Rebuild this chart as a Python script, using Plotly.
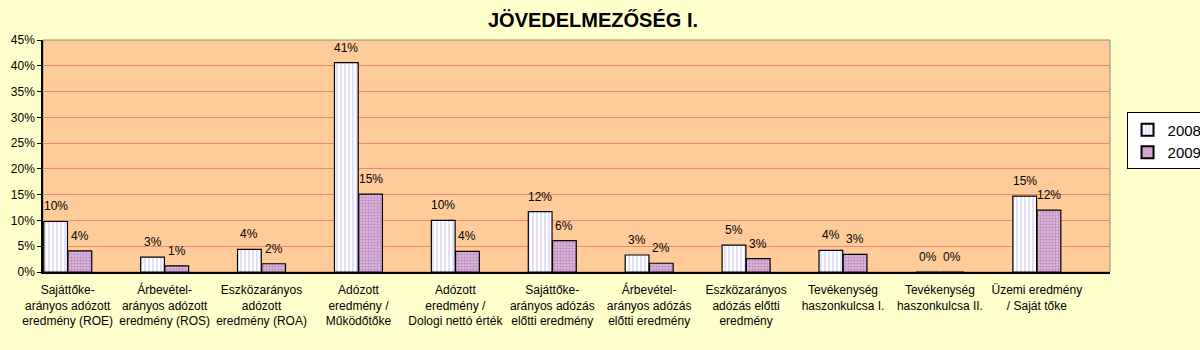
import plotly.graph_objects as go

# Profitability indicators, 2008 vs 2009 (values as fractions)
categories = [
    "Sajáttőke-<br>arányos adózott<br>eredmény (ROE)",
    "Árbevétel-<br>arányos adózott<br>eredmény (ROS)",
    "Eszközarányos<br>adózott<br>eredmény (ROA)",
    "Adózott<br>eredmény /<br>Működőtőke",
    "Adózott<br>eredmény /<br>Dologi nettó érték",
    "Sajáttőke-<br>arányos adózás<br>előtti eredmény",
    "Árbevétel-<br>arányos adózás<br>előtti eredmény",
    "Eszközarányos<br>adózás előtti<br>eredmény",
    "Tevékenység<br>haszonkulcsa I.",
    "Tevékenység<br>haszonkulcsa II.",
    "Üzemi eredmény<br>/ Saját tőke",
]
values_2008 = [0.098, 0.029, 0.044, 0.406, 0.100, 0.117, 0.033, 0.052, 0.042, 0.0, 0.147]
values_2009 = [0.041, 0.012, 0.016, 0.151, 0.040, 0.061, 0.017, 0.026, 0.034, 0.0, 0.120]
series_names = ["2008", "2009"]

idx = list(range(len(categories)))
bar_w = 0.245
offset = 0.125
x08 = [i - offset for i in idx]
x09 = [i + offset for i in idx]

fig = go.Figure()
fig.add_trace(go.Bar(
    name=series_names[0], x=x08, y=values_2008, width=bar_w,
    marker=dict(
        color="#FFFFFF",
        line=dict(color="#000000", width=1.2),
        pattern=dict(shape="|", fgcolor="#A8A8F0", bgcolor="#FFFFFF", size=4, solidity=0.35),
    ),
))
fig.add_trace(go.Bar(
    name=series_names[1], x=x09, y=values_2009, width=bar_w,
    marker=dict(
        color="#E2B8E0",
        line=dict(color="#000000", width=1.2),
        pattern=dict(shape=".", fgcolor="#9A6A9A", bgcolor="#E2B8E0", size=3, solidity=0.5),
    ),
))

# value labels above each bar
for xs, vs in ((x08, values_2008), (x09, values_2009)):
    for x, v in zip(xs, vs):
        fig.add_annotation(
            x=x, y=v, text=f"{round(v * 100):.0f}%", showarrow=False,
            yanchor="middle", yshift=15,
            font=dict(family="Arial, Liberation Sans", size=12, color="#000000"),
        )

# plot-area frame
fig.add_shape(type="rect", xref="paper", yref="paper", x0=0, y0=0, x1=1, y1=1,
              line=dict(color="#8C8C70", width=1), layer="below")

fig.update_layout(
    width=1200, height=350,
    margin=dict(l=43, r=90, t=40, b=78, autoexpand=False),
    paper_bgcolor="#FFFFCC",
    plot_bgcolor="#FFCC99",
    barmode="overlay",
    title=dict(
        text="<b>JÖVEDELMEZŐSÉG I.</b>",
        x=593 / 1200, xanchor="center", y=1 - 20 / 350, yanchor="middle",
        font=dict(family="Arial, Liberation Sans", size=20, color="#000000"),
    ),
    font=dict(family="Arial, Liberation Sans", size=12, color="#000000"),
    xaxis=dict(
        range=[-0.255, 10.755],
        tickmode="array", tickvals=idx, ticktext=categories,
        showgrid=False, zeroline=False,
        showline=True, linecolor="#000000", linewidth=1.5,
        ticks="", ticklabelstandoff=6,
        tickfont=dict(size=12, color="#000000"),
    ),
    yaxis=dict(
        range=[0, 0.45], dtick=0.05, tickformat=".0%",
        showgrid=True, gridcolor="#EE8866", gridwidth=1,
        zeroline=False,
        showline=True, linecolor="#000000", linewidth=1.5,
        ticks="outside", ticklen=4, tickcolor="#000000",
        tickfont=dict(size=12, color="#000000"),
    ),
    showlegend=True,
    legend=dict(
        x=1.0155, xanchor="left", y=0.565, yanchor="middle",
        bgcolor="#FFFFFF", bordercolor="#000000", borderwidth=1,
        font=dict(family="Arial, Liberation Sans", size=15, color="#000000"),
        tracegroupgap=2, itemsizing="constant", itemwidth=30,
    ),
)

fig.write_html("out.html")
